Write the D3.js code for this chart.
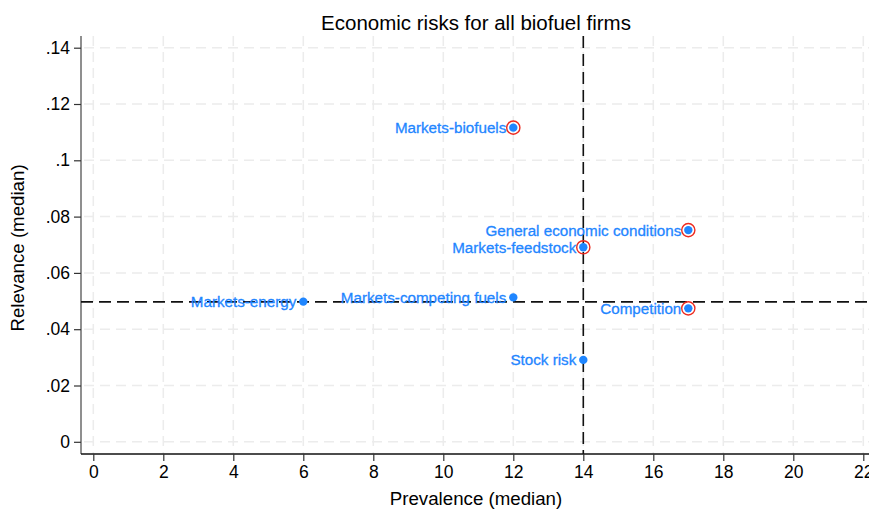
<!DOCTYPE html>
<html>
<head>
<meta charset="utf-8">
<script src="https://cdn.jsdelivr.net/npm/d3@7/dist/d3.min.js"></script>
<style>
  html, body { margin: 0; padding: 0; background: #fff; }
  svg { display: block; font-family: "Liberation Sans", Arial, Helvetica, sans-serif; }
</style>
</head>
<body>
<svg id="chart" width="869" height="509"></svg>
<script>
// Economic risk categories with median prevalence and median relevance
const risks = [
  "Markets-biofuels",
  "General economic conditions",
  "Markets-feedstock",
  "Markets-energy",
  "Markets-competing fuels",
  "Competition",
  "Stock risk"
];
const prevalence = [12, 17, 14, 6, 12, 17, 14];
const relevance = [0.1116, 0.0752, 0.0691, 0.0498, 0.0513, 0.0474, 0.0291];
// Risks flagged with a red ring
const flagged = [true, true, true, false, false, true, false];

// Reference lines (cut-offs)
const prevalenceCut = 14;
const relevanceCut = 0.0497;

const xTicks = [0, 2, 4, 6, 8, 10, 12, 14, 16, 18, 20, 22];
const yTicks = [0, 0.02, 0.04, 0.06, 0.08, 0.10, 0.12, 0.14];

const title = "Economic risks for all biofuel firms";
const xTitle = "Prevalence (median)";
const yTitle = "Relevance (median)";

const W = 869, H = 509;
const plot = { left: 81, right: 869, top: 36, bottom: 454 };

const x = d3.scaleLinear().domain([0, 22]).range([93.3, 863.3]);
const y = d3.scaleLinear().domain([0, 0.14]).range([441.8, 47.7]);

const svg = d3.select("#chart");
const blue = "#1f86ff";
const red = "#ee2a1f";

const fmtY = d => d === 0 ? "0" : d3.format("~g")(d).replace(/^0\./, ".");

// Grid
const grid = svg.append("g").attr("stroke", "#ececec").attr("stroke-width", 1.5)
  .attr("stroke-dasharray", "10,6");
grid.selectAll("line.h").data(yTicks).join("line").attr("class", "h")
  .attr("x1", plot.left + 3).attr("x2", plot.right)
  .attr("y1", d => y(d)).attr("y2", d => y(d));
grid.selectAll("line.v").data(xTicks).join("line").attr("class", "v")
  .attr("x1", d => x(d)).attr("x2", d => x(d))
  .attr("y1", plot.top).attr("y2", plot.bottom);

// Axes
const yAxis = svg.append("g").attr("transform", `translate(${plot.left},0)`)
  .call(d3.axisLeft(y).tickValues(yTicks).tickFormat(fmtY).tickSize(7).tickPadding(4));
yAxis.select(".domain").attr("d", `M0,${plot.top}V${plot.bottom}`)
  .attr("stroke", "#6a6a6a").attr("stroke-width", 1.5);
yAxis.selectAll(".tick line").attr("stroke", "#333").attr("stroke-width", 1.2);
yAxis.selectAll(".tick text").attr("font-size", 17.5).attr("fill", "#000")
  .attr("font-family", "'Liberation Sans', Arial, sans-serif");

const xAxis = svg.append("g").attr("transform", `translate(0,${plot.bottom})`)
  .call(d3.axisBottom(x).tickValues(xTicks).tickFormat(d3.format("d")).tickSize(7).tickPadding(5));
xAxis.select(".domain").attr("d", `M${plot.left},0H${plot.right}`)
  .attr("stroke", "#111").attr("stroke-width", 1.5);
xAxis.selectAll(".tick line").attr("stroke", "#333").attr("stroke-width", 1.2);
xAxis.selectAll(".tick text").attr("font-size", 17.5).attr("fill", "#000")
  .attr("font-family", "'Liberation Sans', Arial, sans-serif");

// Reference lines
const refs = svg.append("g").attr("stroke", "#111").attr("stroke-width", 1.6)
  .attr("stroke-dasharray", "12,6");
refs.append("line")
  .attr("x1", x(prevalenceCut)).attr("x2", x(prevalenceCut))
  .attr("y1", plot.top).attr("y2", plot.bottom);
refs.append("line")
  .attr("x1", plot.left).attr("x2", plot.right)
  .attr("y1", y(relevanceCut)).attr("y2", y(relevanceCut));

// Points
const data = risks.map((name, i) => ({ name, px: prevalence[i], rv: relevance[i], flag: flagged[i] }));

const pts = svg.append("g");
pts.selectAll("circle.dot").data(data).join("circle").attr("class", "dot")
  .attr("cx", d => x(d.px)).attr("cy", d => y(d.rv)).attr("r", 4.2).attr("fill", blue);
pts.selectAll("circle.ring").data(data.filter(d => d.flag)).join("circle").attr("class", "ring")
  .attr("cx", d => x(d.px)).attr("cy", d => y(d.rv)).attr("r", 6.6)
  .attr("fill", "none").attr("stroke", red).attr("stroke-width", 1.4);

// Marker labels, placed to the left of each point
pts.selectAll("text").data(data).join("text")
  .attr("x", d => x(d.px) - 7).attr("y", d => y(d.rv)).attr("dy", "0.36em")
  .attr("text-anchor", "end").attr("font-size", 15.2).attr("fill", blue)
  .attr("stroke", blue).attr("stroke-width", 0.3)
  .text(d => d.name);

// Titles
svg.append("text").attr("x", (plot.left + plot.right) / 2 + 1).attr("y", 30)
  .attr("text-anchor", "middle").attr("font-size", 20.5).attr("fill", "#000").text(title);
svg.append("text").attr("x", (plot.left + plot.right) / 2 + 1).attr("y", 505)
  .attr("text-anchor", "middle").attr("font-size", 18.7).attr("fill", "#000").text(xTitle);
svg.append("text").attr("transform", `translate(24,${(plot.top + plot.bottom) / 2 + 3}) rotate(-90)`)
  .attr("text-anchor", "middle").attr("font-size", 18.7).attr("fill", "#000").text(yTitle);
</script>
</body>
</html>
